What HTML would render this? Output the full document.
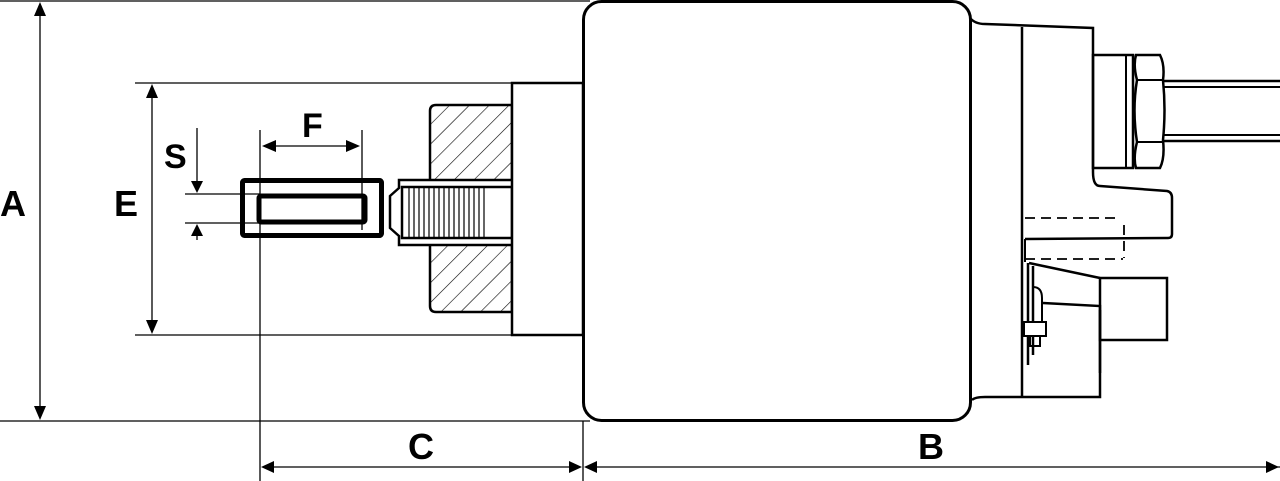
<!DOCTYPE html>
<html><head><meta charset="utf-8"><style>
html,body{margin:0;padding:0;background:#fff;}
svg{display:block;}
text{font-family:"Liberation Sans",sans-serif;font-weight:bold;fill:#000;}
</style></head><body>
<svg width="1280" height="481" viewBox="0 0 1280 481" xmlns="http://www.w3.org/2000/svg">
<defs>
<pattern id="h" patternUnits="userSpaceOnUse" width="14" height="14" patternTransform="rotate(45)">
<rect width="14" height="14" fill="#fff"/><line x1="0" y1="0" x2="0" y2="14" stroke="#000" stroke-width="1.2"/>
</pattern>
</defs>
<g stroke="#000" fill="none">
<!-- dimension thin lines -->
<g stroke-width="1.3">
<line x1="0" y1="1" x2="590" y2="1"/>
<line x1="0" y1="421" x2="590" y2="421"/>
<line x1="40" y1="14" x2="40" y2="408"/>
<line x1="135" y1="83" x2="512" y2="83"/>
<line x1="135" y1="335" x2="512" y2="335"/>
<line x1="152" y1="96" x2="152" y2="322"/>
<line x1="197" y1="128" x2="197" y2="182"/>
<line x1="197" y1="234" x2="197" y2="240"/>
<line x1="185" y1="194" x2="260" y2="194"/>
<line x1="185" y1="223" x2="260" y2="223"/>
<line x1="260" y1="130" x2="260" y2="481"/>
<line x1="362" y1="130" x2="362" y2="230"/>
<line x1="274" y1="146" x2="348" y2="146"/>
<line x1="583" y1="421" x2="583" y2="481"/>
<line x1="274" y1="467" x2="570" y2="467"/>
<line x1="596" y1="467" x2="1280" y2="467"/>
</g>
<!-- plunger eye -->
<rect x="242.5" y="180.5" width="139" height="55" stroke-width="5" rx="2"/>
<rect x="259" y="196" width="106" height="26" stroke-width="5" rx="2"/>
<!-- nut hatched -->
<path d="M512 105 H436 Q430 105 430 111 V180 H512 Z" fill="url(#h)" stroke-width="2.5"/>
<path d="M512 312 H436 Q430 312 430 306 V245 H512 Z" fill="url(#h)" stroke-width="2.5"/>
<!-- threaded stub -->
<path d="M430 180 H399 V188 L390 196 V228 L399 236 V245 H430" stroke-width="2.5" fill="#fff"/>
<rect x="402" y="187" width="110" height="51" fill="#fff" stroke-width="2.5"/>
<g stroke-width="1.2">
<line x1="409" y1="188" x2="409" y2="237"/><line x1="414" y1="188" x2="414" y2="237"/>
<line x1="419" y1="188" x2="419" y2="237"/><line x1="424" y1="188" x2="424" y2="237"/>
<line x1="429" y1="188" x2="429" y2="237"/><line x1="434" y1="188" x2="434" y2="237"/>
<line x1="439" y1="188" x2="439" y2="237"/><line x1="444" y1="188" x2="444" y2="237"/>
<line x1="449" y1="188" x2="449" y2="237"/><line x1="454" y1="188" x2="454" y2="237"/>
<line x1="459" y1="188" x2="459" y2="237"/><line x1="464" y1="188" x2="464" y2="237"/>
<line x1="469" y1="188" x2="469" y2="237"/><line x1="474" y1="188" x2="474" y2="237"/>
<line x1="479" y1="188" x2="479" y2="237"/><line x1="484" y1="188" x2="484" y2="237"/>
</g>
<!-- housing step -->
<rect x="512" y="83" width="71" height="252" stroke-width="2.5" fill="#fff"/>
<!-- main body -->
<rect x="583.5" y="1.5" width="387" height="419" rx="18" stroke-width="3" fill="#fff"/>
<!-- right cap -->
<path d="M970 18 Q975 24 985 24 L1093 28 V172 Q1093 186 1100 186 L1167 191 Q1172 192 1172 198 V234 Q1172 238 1168 238 L1025 239" stroke-width="2.5"/>
<path d="M972 400 Q975 397 985 397 H1100 V310" stroke-width="2.5"/>
<line x1="1022" y1="27" x2="1022" y2="397" stroke-width="2.5"/>
<line x1="1025" y1="239" x2="1025" y2="262" stroke-width="2"/>
<!-- terminal stud -->
<rect x="1093" y="55" width="40" height="113" stroke-width="2.5"/>
<line x1="1126" y1="55" x2="1126" y2="168" stroke-width="2"/>
<path d="M1136 55 H1160 Q1165 65 1163 80 Q1166 110 1163 140 Q1165 158 1160 168 H1136 Q1133 158 1137 142 Q1132 110 1137 80 Q1133 65 1136 55 Z" stroke-width="2.5"/>
<line x1="1137" y1="80" x2="1163" y2="80" stroke-width="2"/>
<line x1="1137" y1="142" x2="1163" y2="142" stroke-width="2"/>
<line x1="1163" y1="81" x2="1280" y2="81" stroke-width="2.5"/>
<line x1="1163" y1="87" x2="1280" y2="87" stroke-width="2"/>
<line x1="1163" y1="135" x2="1280" y2="135" stroke-width="2"/>
<line x1="1163" y1="141" x2="1280" y2="141" stroke-width="2.5"/>
<!-- dashed -->
<g stroke-width="1.8" stroke-dasharray="10,6">
<line x1="1025" y1="218" x2="1118" y2="218"/>
<line x1="1025" y1="259" x2="1123" y2="259"/>
<line x1="1124" y1="225" x2="1124" y2="258"/>
</g>
<!-- lower terminal -->
<rect x="1100" y="278" width="67" height="62" stroke-width="2.5"/>
<path d="M1029 263 L1100 278 M1043 303 L1100 306 V373" stroke-width="2.5"/>
<path d="M1028 263 V365 M1033 266 V355" stroke-width="2.5"/>
<path d="M1033 287 Q1042 287 1042 298 V322" stroke-width="2"/>
<rect x="1024" y="322" width="22" height="14" stroke-width="2" fill="#fff"/>
<rect x="1030" y="336" width="10" height="10" stroke-width="2"/>
</g>
<!-- arrowheads -->
<g fill="#000">
<polygon points="40,2 34,16 46,16"/>
<polygon points="40,420 34,406 46,406"/>
<polygon points="152,84 146,98 158,98"/>
<polygon points="152,334 146,320 158,320"/>
<polygon points="197,193 191,181 203,181"/>
<polygon points="197,224 191,236 203,236"/>
<polygon points="262,146 276,140 276,152"/>
<polygon points="360,146 346,140 346,152"/>
<polygon points="261,467 274,461 274,473"/>
<polygon points="582,467 569,461 569,473"/>
<polygon points="584,467 597,461 597,473"/>
<polygon points="1279,467 1266,461 1266,473"/>
</g>
<text x="0" y="216" font-size="36">A</text>
<text x="114" y="216" font-size="36">E</text>
<text x="164" y="168" font-size="34">S</text>
<text x="302" y="137" font-size="34">F</text>
<text x="408" y="459" font-size="36">C</text>
<text x="918" y="459" font-size="36">B</text>
</svg>
</body></html>
